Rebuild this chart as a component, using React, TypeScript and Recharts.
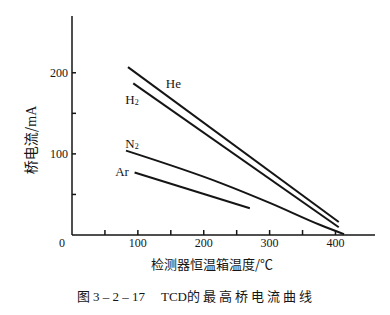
import { LineChart, Line, XAxis, YAxis, ReferenceDot } from 'recharts';

// Maximum bridge current (mA) vs. detector oven temperature (°C)
const heData = [
  { x: 85, y: 207 },
  { x: 405, y: 16 },
];
const h2Data = [
  { x: 93, y: 187 },
  { x: 405, y: 9.5 },
];
const n2Data = [
  { x: 82, y: 104 },
  { x: 226, y: 64 },
  { x: 302, y: 39 },
  { x: 378, y: 12 },
  { x: 413, y: 1 },
];
const arData = [
  { x: 95, y: 77 },
  { x: 270, y: 33 },
];

const xTicks = [0, 50, 100, 150, 200, 250, 300, 350, 400];
const xLabelled = [0, 100, 200, 300, 400];
const yTicks = [50, 100, 150, 200];
const yLabelled = [100, 200];

// series name labels, placed in data coordinates
const seriesLabels = [
  { x: 154, y: 188, base: 'He', sub: '' },
  { x: 91, y: 168, base: 'H', sub: '2' },
  { x: 91, y: 114, base: 'N', sub: '2' },
  { x: 76, y: 79, base: 'Ar', sub: '' },
];

const INK = '#151515';
const SERIF = '"Liberation Serif", "DejaVu Serif", serif';
const CJK = '"Noto Sans CJK SC", sans-serif';

const X_TICK_MARGIN = 7;
const Y_TICK_MARGIN = 4;

function XTick(props: any) {
  const { x, y, payload } = props;
  const axisY = y - X_TICK_MARGIN;
  const v = payload.value;
  return (
    <g>
      {v !== 0 && <line x1={x} x2={x} y1={axisY} y2={axisY - 5} stroke={INK} strokeWidth={1.5} />}
      {xLabelled.includes(v) && (
        <text
          x={v === 0 ? x - 10 : x}
          y={axisY + 8}
          textAnchor="middle"
          dominantBaseline="central"
          fontFamily={SERIF}
          fontSize={12}
          fill={INK}
        >
          {v}
        </text>
      )}
    </g>
  );
}

function YTick(props: any) {
  const { x, y, payload } = props;
  const axisX = x + Y_TICK_MARGIN;
  const v = payload.value;
  return (
    <g>
      <line x1={axisX} x2={axisX + 4} y1={y} y2={y} stroke={INK} strokeWidth={1.5} />
      {yLabelled.includes(v) && (
        <text x={x} y={y} textAnchor="end" dominantBaseline="central" fontFamily={SERIF} fontSize={12} fill={INK}>
          {v}
        </text>
      )}
    </g>
  );
}

function SeriesLabel(props: any) {
  const { cx, cy, item } = props;
  return (
    <text
      x={cx}
      y={cy}
      textAnchor="middle"
      dominantBaseline="central"
      fontFamily={SERIF}
      fontSize={13}
      fill={INK}
    >
      <tspan>{item.base}</tspan>
      {item.sub && (
        <tspan fontSize={8} dy={3}>
          {item.sub}
        </tspan>
      )}
    </text>
  );
}

export default function App() {
  return (
    <div style={{ position: 'absolute', left: 0, top: 0, width: 390, height: 315, background: '#fff' }}>
      <LineChart width={390} height={315} margin={{ top: 16, right: 15, left: 0, bottom: 50 }}>
        <XAxis
          type="number"
          dataKey="x"
          domain={[0, 460]}
          ticks={xTicks}
          interval={0}
          allowDataOverflow
          height={30}
          tickSize={0}
          tickMargin={X_TICK_MARGIN}
          tickLine={false}
          axisLine={{ stroke: INK, strokeWidth: 1.5 }}
          tick={<XTick />}
        />
        <YAxis
          type="number"
          dataKey="y"
          domain={[0, 270]}
          ticks={yTicks}
          interval={0}
          allowDataOverflow
          width={72}
          tickSize={0}
          tickMargin={Y_TICK_MARGIN}
          tickLine={false}
          axisLine={{ stroke: INK, strokeWidth: 1.5 }}
          tick={<YTick />}
        />
        <Line data={heData} dataKey="y" stroke={INK} strokeWidth={2} dot={false} isAnimationActive={false} />
        <Line data={h2Data} dataKey="y" stroke={INK} strokeWidth={2} dot={false} isAnimationActive={false} />
        <Line data={n2Data} dataKey="y" type="monotone" stroke={INK} strokeWidth={2} dot={false} isAnimationActive={false} />
        <Line data={arData} dataKey="y" stroke={INK} strokeWidth={2} dot={false} isAnimationActive={false} />
        {seriesLabels.map((s) => (
          <ReferenceDot
            key={s.base + s.sub}
            x={s.x}
            y={s.y}
            r={0}
            shape={(p: any) => <SeriesLabel {...p} item={s} />}
          />
        ))}
      </LineChart>
      <div
        style={{
          position: 'absolute',
          left: 30,
          top: 140,
          transform: 'translate(-50%, -50%) rotate(-90deg)',
          whiteSpace: 'nowrap',
          fontFamily: CJK,
          fontSize: 14,
          color: INK,
        }}
      >
        桥电流/<span style={{ fontFamily: SERIF }}>mA</span>
      </div>
      <div
        style={{
          position: 'absolute',
          left: 212,
          top: 263,
          transform: 'translate(-50%, -50%)',
          whiteSpace: 'nowrap',
          fontFamily: CJK,
          fontSize: 13,
          color: INK,
        }}
      >
        检测器恒温箱温度/℃
      </div>
      <div
        style={{
          position: 'absolute',
          left: 196,
          top: 295,
          transform: 'translate(-50%, -50%)',
          whiteSpace: 'nowrap',
          fontFamily: CJK,
          fontSize: 13,
          color: INK,
        }}
      >
        图 <span style={{ fontFamily: SERIF }}>3 – 2 – 17</span>
        <span style={{ marginLeft: 16, fontFamily: SERIF }}>TCD</span>
        <span style={{ letterSpacing: 3 }}>的最高桥电流曲线</span>
      </div>
    </div>
  );
}
